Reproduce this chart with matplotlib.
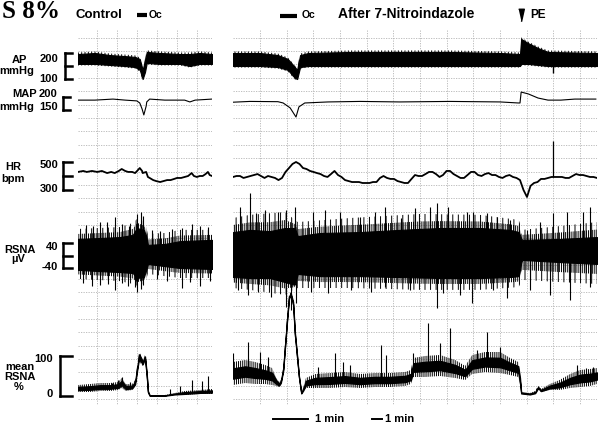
import numpy as np
import matplotlib
matplotlib.use("Agg")
import matplotlib.pyplot as plt
from matplotlib.transforms import blended_transform_factory as blend

# ---------------------------------------------------------------- data
# time in seconds from start of each chart segment
T_CTRL = 230          # control segment length (s)
T_NI = 624            # after 7-nitroindazole segment length (s)

# Arterial pressure (mmHg): upper / lower envelope of the pulsatile band
ap_ctrl_t = [0, 29, 55, 81, 98, 106, 111, 115, 118, 141, 175, 192, 209, 230]
ap_ctrl_hi = [196, 200, 192, 188, 185, 177, 135, 173, 204, 200, 196, 196, 200, 196]
ap_ctrl_lo = [158, 158, 154, 150, 146, 135, 100, 127, 162, 158, 158, 150, 158, 158]
ap_ni_t = [0, 46, 77, 94, 106, 110, 115, 129, 201, 286, 372, 458, 492, 494, 506, 523, 540, 624]
ap_ni_hi = [200, 200, 192, 177, 146, 135, 192, 200, 204, 204, 204, 200, 196, 254, 238, 219, 204, 200]
ap_ni_lo = [150, 150, 146, 135, 104, 100, 146, 150, 150, 150, 150, 150, 150, 158, 158, 154, 150, 150]
ap_ni_spike_t = [549]
ap_ni_spike = [123]
AP_FUZZ = 6   # mmHg of ragged edge on each side of the band

# Mean arterial pressure (mmHg)
map_ctrl_t = [0, 29, 60, 81, 101, 106, 110, 113, 117, 118, 123, 149, 183, 192, 201, 230]
map_ctrl = [188, 188, 192, 188, 185, 177, 154, 131, 165, 181, 192, 188, 188, 181, 188, 192]
map_ni_t = [0, 29, 77, 86, 98, 108, 113, 123, 163, 218, 286, 372, 458, 489, 492, 494,
            506, 523, 540, 562, 586, 622]
map_ni = [180, 183, 182, 177, 158, 123, 162, 177, 181, 183, 181, 183, 181, 177, 177, 219,
          212, 196, 188, 188, 192, 192]

# Heart rate (bpm)
hr_ctrl_t = [0, 9, 15, 24, 33, 41, 50, 57, 63, 70, 75, 81, 86, 93, 98, 103, 106, 110, 111, 117,
             120, 123, 129, 134, 141, 147, 153, 159, 165, 170, 177, 183, 189, 195, 199, 204,
             209, 214, 219, 223, 226, 230]
hr_ctrl = [429, 436, 429, 436, 429, 436, 421, 429, 421, 436, 450, 436, 429, 429, 421, 443, 457,
           436, 421, 429, 393, 386, 371, 364, 357, 364, 371, 371, 379, 386, 386, 393, 400, 421,
           400, 393, 400, 400, 414, 429, 407, 400]
hr_ni_dt = 6   # s between samples
hr_ni = [393, 400, 400, 386, 393, 400, 407, 414, 400, 386,
         400, 393, 386, 371, 386, 429, 457, 486, 500, 486,
         457, 450, 436, 429, 421, 414, 400, 393, 414, 436,
         407, 393, 371, 364, 357, 357, 357, 350, 350, 350,
         357, 357, 386, 400, 386, 379, 379, 364, 357, 350,
         350, 379, 407, 400, 400, 414, 429, 429, 414, 393,
         407, 436, 436, 414, 400, 386, 386, 407, 429, 429,
         407, 400, 414, 421, 407, 407, 393, 386, 400, 407,
         393, 386, 371, 300, 250, 329, 350, 357, 379, 379,
         386, 393, 393, 393, 393, 386, 386, 400, 414, 407,
         407, 400, 393, 393, 386]
hr_ni_spike_t = [549]
hr_ni_spike = [650]

# Renal sympathetic nerve activity (uV): dense core, fringe, and single spikes
rsna_ctrl_t = [0, 38, 72, 94, 101, 113, 117, 120, 149, 175, 230]
rsna_ctrl_core_hi = [53, 56, 59, 66, 88, 82, 62, 34, 37, 46, 50]
rsna_ctrl_core_lo = [-46, -50, -53, -56, -72, -69, -46, -27, -34, -40, -43]
rsna_ctrl_fr_t = [0, 72, 94, 103, 115, 120, 149, 175, 230]
rsna_ctrl_fr_hi = [85, 91, 104, 120, 107, 69, 72, 82, 82]
rsna_ctrl_fr_lo = [-75, -82, -91, -98, -88, -59, -66, -72, -72]
rsna_ctrl_up_t = [14, 26, 38, 50, 63, 75, 87, 101, 108, 111, 127, 141, 161, 178, 195, 209, 223]
rsna_ctrl_up = [98, 94, 107, 107, 123, 101, 94, 133, 139, 126, 82, 78, 85, 88, 101, 94, 91]
rsna_ctrl_dn_t = [9, 24, 38, 51, 63, 75, 86, 98, 101, 108, 111, 135, 153, 178, 192, 209, 226]
rsna_ctrl_dn = [-88, -98, -94, -91, -110, -88, -98, -101, -117, -107, -94, -75, -82, -104, -85,
                -98, -82]

rsna_ni_t = [0, 29, 63, 89, 106, 111, 149, 218, 286, 355, 423, 475, 490, 495, 560, 624]
rsna_ni_core_hi = [75, 82, 78, 88, 88, 62, 72, 75, 82, 88, 88, 82, 75, 50, 53, 59]
rsna_ni_core_lo = [-69, -72, -72, -85, -94, -59, -66, -66, -69, -72, -72, -69, -66, -14, -21, -27]
rsna_ni_fr_t = [0, 29, 89, 111, 201, 321, 423, 490, 495, 560, 624]
rsna_ni_fr_hi = [120, 130, 139, 107, 120, 133, 130, 114, 82, 94, 107]
rsna_ni_fr_lo = [-104, -110, -126, -104, -104, -110, -110, -101, -78, -85, -91]
rsna_ni_up_t = [12, 29, 39, 55, 77, 91, 106, 137, 158, 183, 218, 243, 261, 288, 312, 338, 350,
                369, 401, 411, 435, 453, 475, 504, 526, 549, 572, 600, 612]
rsna_ni_up = [155, 200, 136, 146, 139, 146, 155, 139, 146, 139, 123, 139, 155, 120, 152, 155,
              168, 155, 139, 139, 136, 123, 114, 82, 107, 136, 139, 139, 155]
rsna_ni_dn_t = [9, 26, 43, 65, 91, 99, 108, 134, 163, 202, 237, 261, 303, 350, 360, 389, 410,
                446, 470, 509, 543, 578, 612]
rsna_ni_dn = [-110, -126, -117, -133, -165, -174, -152, -117, -120, -110, -117, -101, -110, -168,
              -120, -126, -152, -110, -136, -110, -126, -142, -101]

# Mean RSNA (%): envelope of the noisy integrated trace, plus single spikes
mrsna_ctrl_t = [0, 21, 38, 55, 69, 75, 82, 93, 98, 101, 105, 108, 111, 115, 118, 120, 123, 149,
                166, 183, 209, 230]
mrsna_ctrl_hi = [27.5, 30, 32.5, 32.5, 35, 45, 30, 30, 40, 70, 110, 102.5, 90, 102.5, 60, 15,
                 2.5, 2.5, 7.5, 12.5, 15, 17.5]
mrsna_ctrl_lo = [10, 10, 12.5, 12.5, 15, 20, 12.5, 15, 25, 55, 90, 80, 75, 90, 45, 7.5, 0, 0,
                 2.5, 2.5, 5, 5]
mrsna_ctrl_sp_t = [58, 69, 75, 89, 158, 175, 195, 213, 223]
mrsna_ctrl_sp = [32.5, 40, 47.5, 35, 17.5, 25, 40, 37.5, 50]

mrsna_ni_t = [0, 21, 38, 55, 67, 74, 79, 82, 86, 89, 93, 96, 99, 103, 106, 110, 113, 117, 120,
              125, 141, 166, 192, 218, 243, 269, 295, 305, 309, 329, 355, 381, 398, 410, 432,
              458, 475, 489, 492, 494, 509, 518, 523, 528, 543, 560, 578, 595, 612, 624]
mrsna_ni_hi = [85, 90, 85, 77.5, 70, 45, 35, 40, 70, 127.5, 202.5, 252.5, 260, 240, 165, 102.5,
               52.5, 10, 20, 45, 55, 57.5, 60, 55, 57.5, 57.5, 60, 65, 95, 100, 102.5, 90, 75,
               102.5, 110, 110, 95, 85, 52.5, 10, 7.5, 12.5, 25, 17.5, 30, 40, 55, 65, 67.5, 70]
mrsna_ni_lo = [27.5, 32.5, 30, 30, 27.5, 25, 22.5, 30, 60, 115, 190, 240, 250, 225, 150, 90, 45,
               5, 10, 20, 20, 20, 22.5, 20, 22.5, 22.5, 25, 30, 47.5, 47.5, 50, 45, 40, 55, 60,
               57.5, 52.5, 47.5, 27.5, 5, 2.5, 5, 17.5, 10, 15, 15, 20, 22.5, 25, 30]
mrsna_ni_sp_t = [0, 26, 46, 60, 146, 175, 189, 201, 254, 262, 309, 334, 355, 372, 418, 435, 458,
                 590, 605, 617]
mrsna_ni_sp = [107.5, 135, 110, 97.5, 72.5, 107.5, 85, 77.5, 127.5, 102.5, 107.5, 182.5, 132.5,
               170, 115, 160, 122.5, 77.5, 70, 72.5]

# events (s)
OC_CTRL = [101, 118]
OC_NI = [81, 110]
PE_NI = 494
BAR_S = 60

# calibration brackets
SCALE_AP = [100, 150, 200]
SCALE_MAP = [150, 200]
SCALE_HR = [300, 400, 500]
SCALE_RSNA = [-40, 0, 40]
SCALE_MRSNA = [0, 100]

# ---------------------------------------------------------------- layout
W, H, DPI = 599, 424, 100
fig = plt.figure(figsize=(W / DPI, H / DPI), dpi=DPI, facecolor="white")
SANS = ["Liberation Sans", "DejaVu Sans"]
NARROW = ["Liberation Sans Narrow", "Liberation Sans", "DejaVu Sans"]
SERIF = ["Liberation Serif", "DejaVu Serif"]
plt.rcParams["hatch.linewidth"] = 0.7

PANEL = {"ctrl": (78, 212, T_CTRL), "ni": (233, 597, T_NI)}
# pixel rows of calibration values: (value, row)
REF_AP = ((200, 53), (100, 79))
REF_MAP = ((200, 97), (150, 110))
REF_HR = ((500, 162), (300, 190))
REF_RSNA = ((40, 243), (-40, 268))
REF_MRSNA = ((100, 356), (0, 396))


def fxp(px):
    return px / W


def fyp(py):
    return 1 - py / H


def new_axes(x0, x1, y0, y1):
    ax = fig.add_axes([fxp(x0), fyp(y1), (x1 - x0) / W, (y1 - y0) / H])
    ax.set_facecolor("none")
    for s in ax.spines.values():
        s.set_visible(False)
    ax.set_xticks([])
    ax.set_yticks([])
    return ax


def trace_axes(panel, y0, y1, ref):
    (va, ya), (vb, yb) = ref
    x0, x1, T = PANEL[panel]
    ax = new_axes(x0, x1, y0, y1)
    k = (vb - va) / (yb - ya)
    ax.set_xlim(0, T)
    ax.set_ylim(va + (y1 - ya) * k, va + (y0 - ya) * k)
    return ax


def ftext(x, y, s, ha="left", size=8, family=SANS, weight="bold", va="baseline"):
    fig.text(fxp(x), fyp(y), s, ha=ha, va=va, fontsize=size, family=family,
             fontweight=weight, color="black")


# chart-paper grid
for name, (x0, x1, T) in PANEL.items():
    g = new_axes(x0, x1, 30, 405)
    g.set_xlim(x0, x1)
    g.set_ylim(405, 30)
    step, start = (20, 97) if name == "ctrl" else (26.67, 260)
    g.vlines(np.arange(start, x1, step), 30, 405, colors="#b4b4b4", lw=0.6,
             linestyles=(0, (1.5, 1.5)))
    g.hlines(np.arange(37.5, 405, 13.4), x0, x1, colors="#b4b4b4", lw=0.6,
             linestyles=(0, (1.5, 1.5)))


# ---- AP
def ap_band(ax, t, lo, hi):
    lo, hi = np.asarray(lo, float), np.asarray(hi, float)
    ax.fill_between(t, lo - AP_FUZZ, hi + AP_FUZZ, facecolor="none", edgecolor="black",
                    hatch="|||||", lw=0)
    ax.fill_between(t, lo, hi, color="black", lw=0.8)


ax_ap_c = trace_axes("ctrl", 30, 90, REF_AP)
ap_band(ax_ap_c, ap_ctrl_t, ap_ctrl_lo, ap_ctrl_hi)
ax_ap_n = trace_axes("ni", 30, 90, REF_AP)
ap_band(ax_ap_n, ap_ni_t, ap_ni_lo, ap_ni_hi)
ax_ap_n.vlines(ap_ni_spike_t, np.interp(ap_ni_spike_t, ap_ni_t, ap_ni_lo), ap_ni_spike,
               color="black", lw=1)

# ---- MAP
ax_map_c = trace_axes("ctrl", 85, 125, REF_MAP)
ax_map_c.plot(map_ctrl_t, map_ctrl, color="black", lw=0.8)
ax_map_n = trace_axes("ni", 85, 125, REF_MAP)
ax_map_n.plot(map_ni_t, map_ni, color="black", lw=0.8)

# ---- HR
ax_hr_c = trace_axes("ctrl", 130, 205, REF_HR)
ax_hr_c.plot(hr_ctrl_t, hr_ctrl, color="black", lw=1.3)
ax_hr_n = trace_axes("ni", 130, 205, REF_HR)
hr_ni_t = np.arange(len(hr_ni)) * hr_ni_dt
ax_hr_n.plot(hr_ni_t, hr_ni, color="black", lw=1.3)
ax_hr_n.vlines(hr_ni_spike_t, np.interp(hr_ni_spike_t, hr_ni_t, hr_ni), hr_ni_spike,
               color="black", lw=0.9)


# ---- RSNA
def rsna(ax, t, chi, clo, ft, fhi, flo, ut, uv, dt, dv):
    tt = np.linspace(0, max(t), 400)
    c_hi, c_lo = np.interp(tt, t, chi), np.interp(tt, t, clo)
    f_hi, f_lo = np.interp(tt, ft, fhi), np.interp(tt, ft, flo)
    m_hi, m_lo = (c_hi + f_hi) / 2, (c_lo + f_lo) / 2
    # outer fringe: sparse strokes, inner fringe: dense strokes
    ax.fill_between(tt, f_lo, f_hi, facecolor="none", edgecolor="black", hatch="|||", lw=0)
    ax.fill_between(tt, m_lo, m_hi, facecolor="none", edgecolor="black", hatch="||||||||", lw=0)
    ax.fill_between(tt, c_lo, c_hi, color="black", lw=0.8)
    ax.vlines(ut, 0, uv, color="black", lw=0.8)
    ax.vlines(dt, 0, dv, color="black", lw=0.8)


ax_rs_c = trace_axes("ctrl", 185, 320, REF_RSNA)
rsna(ax_rs_c, rsna_ctrl_t, rsna_ctrl_core_hi, rsna_ctrl_core_lo, rsna_ctrl_fr_t,
     rsna_ctrl_fr_hi, rsna_ctrl_fr_lo, rsna_ctrl_up_t, rsna_ctrl_up, rsna_ctrl_dn_t, rsna_ctrl_dn)
ax_rs_n = trace_axes("ni", 185, 320, REF_RSNA)
rsna(ax_rs_n, rsna_ni_t, rsna_ni_core_hi, rsna_ni_core_lo, rsna_ni_fr_t,
     rsna_ni_fr_hi, rsna_ni_fr_lo, rsna_ni_up_t, rsna_ni_up, rsna_ni_dn_t, rsna_ni_dn)


# ---- mean RSNA
def mrsna(ax, t, hi, lo, st, sv):
    mid = (np.asarray(hi) + np.asarray(lo)) / 2
    ax.fill_between(t, lo, hi, facecolor="none", edgecolor="black", hatch="||||||||", lw=0)
    ax.fill_between(t, mid - (mid - np.asarray(lo)) * 0.45, mid + (np.asarray(hi) - mid) * 0.45,
                    color="black", lw=0.9)
    ax.vlines(st, np.interp(st, t, mid), sv, color="black", lw=0.8)


ax_mr_c = trace_axes("ctrl", 280, 405, REF_MRSNA)
mrsna(ax_mr_c, mrsna_ctrl_t, mrsna_ctrl_hi, mrsna_ctrl_lo, mrsna_ctrl_sp_t, mrsna_ctrl_sp)
ax_mr_n = trace_axes("ni", 280, 405, REF_MRSNA)
mrsna(ax_mr_n, mrsna_ni_t, mrsna_ni_hi, mrsna_ni_lo, mrsna_ni_sp_t, mrsna_ni_sp)


# ---- calibration brackets (left of control panel)
def bracket(ax, vals, xv, xe, lw=1.8):
    x0, x1, _ = PANEL["ctrl"]
    tr = blend(ax.transAxes, ax.transData)
    ax_x = lambda px: (px - x0) / (x1 - x0)
    ax.plot([ax_x(xv)] * 2, [min(vals), max(vals)], color="black", lw=lw,
            transform=tr, clip_on=False, solid_capstyle="projecting")
    for v in vals:
        ax.plot([ax_x(xv), ax_x(xe)], [v, v], color="black", lw=lw, transform=tr,
                clip_on=False, solid_capstyle="projecting")


bracket(ax_ap_c, SCALE_AP, 65, 72)
bracket(ax_map_c, SCALE_MAP, 63, 70)
bracket(ax_hr_c, SCALE_HR, 63, 72)
bracket(ax_rs_c, SCALE_RSNA, 63, 72)
bracket(ax_mr_c, SCALE_MRSNA, 60, 72)

# ---- left labels
ftext(19, 63, "AP", ha="center", family=NARROW)
ftext(16.5, 74.5, "mmHg", ha="center", family=NARROW)
ftext(58, 61.7, "200", ha="right")
ftext(58, 81.7, "100", ha="right")
ftext(25, 96.7, "MAP", ha="center", family=NARROW)
ftext(16.5, 110, "mmHg", ha="center", family=NARROW)
ftext(57.5, 96.7, "200", ha="right")
ftext(57.5, 110, "150", ha="right")
ftext(13.5, 170, "HR", ha="center", family=NARROW)
ftext(13.5, 182.5, "bpm", ha="center", family=NARROW)
ftext(58, 168.3, "500", ha="right")
ftext(58, 191.7, "300", ha="right")
ftext(19.5, 253.3, "RSNA", ha="center", family=NARROW)
ftext(18, 262, "µV", ha="center", family=NARROW)
ftext(58, 250, "40", ha="right")
ftext(58, 270, "-40", ha="right")
ftext(19.5, 370, "mean", ha="center", family=NARROW)
ftext(20, 380, "RSNA", ha="center", family=NARROW)
ftext(18.5, 390, "%", ha="center", family=NARROW)
ftext(53, 361.7, "100", ha="right")
ftext(53, 396.7, "0", ha="right")

# ---- header
ftext(2, 18.3, "S 8%", size=18, family=SERIF)
ftext(76, 18.3, "Control", size=9.5)
ftext(338, 18.3, "After 7-Nitroindazole", size=10)
ftext(148.5, 18.3, "Oc", size=7.5)
ftext(302, 18.3, "Oc", size=7.5)
ftext(530, 18.3, "PE", size=8.5)

tr_c = blend(ax_ap_c.transData, fig.transFigure)
ax_ap_c.plot(OC_CTRL, [fyp(15)] * 2, color="black", lw=3, transform=tr_c, clip_on=False,
             solid_capstyle="butt")
tr_n = blend(ax_ap_n.transData, fig.transFigure)
ax_ap_n.plot(OC_NI, [fyp(15.5)] * 2, color="black", lw=3, transform=tr_n, clip_on=False,
             solid_capstyle="butt")
ax_ap_n.plot([PE_NI], [fyp(14.5)], marker=[(-0.45, 1), (0.45, 1), (0, -1)], ms=9,
             color="black", transform=tr_n, clip_on=False, lw=0)

# ---- time bars
x0n, x1n, _ = PANEL["ni"]
bar_px = BAR_S * (x1n - x0n) / T_NI
fig.add_artist(plt.Line2D([fxp(273), fxp(273 + bar_px)], [fyp(418.5)] * 2, color="black",
                          lw=1.4))
ftext(315, 421.7, "1 min", size=8)
fig.add_artist(plt.Line2D([fxp(372), fxp(382)], [fyp(418.5)] * 2, color="black", lw=1.4))
ftext(385, 421.7, "1 min", size=8)

fig.savefig("out.png", dpi=DPI, facecolor="white")
